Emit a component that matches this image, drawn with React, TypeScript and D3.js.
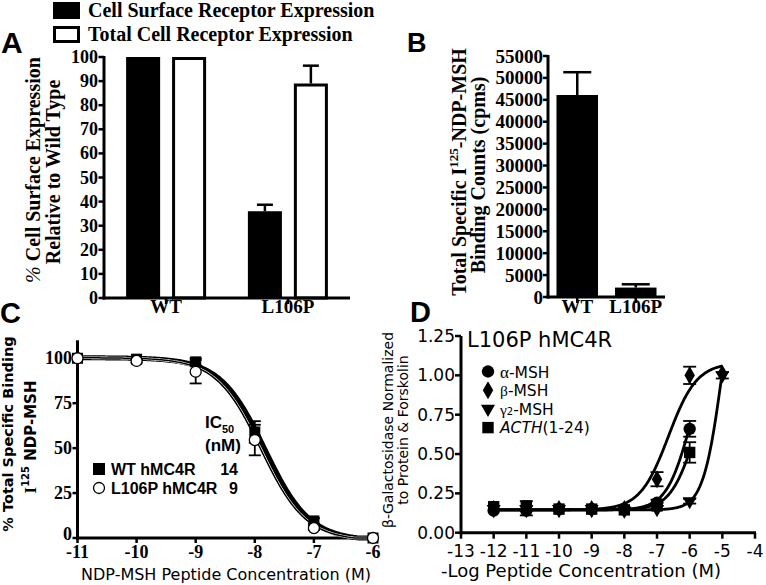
import React from "react";
import * as d3 from "d3";

// ---------------- Panel A data ----------------
const catsA = ["WT", "L106P"];
const legendA = ["Cell Surface Receptor Expression", "Total Cell Receptor Expression"];
const surfaceA = [100, 36];
const surfaceErrA = [0, 2.7];
const totalA = [100, 89];
const totalErrA = [0, 7.4];
const ticksA = [0, 10, 20, 30, 40, 50, 60, 70, 80, 90, 100];

// ---------------- Panel B data ----------------
const catsB = ["WT", "L106P"];
const countsB = [46100, 2150];
const countsErrB = [5200, 750];
const ticksB = [0, 5000, 10000, 15000, 20000, 25000, 30000, 35000, 40000, 45000, 50000, 55000];

// ---------------- Panel C data ----------------
const concC = [-11, -10, -9, -8, -7, -6];
const wtC = [100, 99.5, 98, 59, 9.5, 0];
const wtErrC = [0, 0, 2, 6, 1.5, 0];
const l106pC = [100, 98.5, 92.5, 54.5, 5.5, 0];
const l106pErrC = [0, 1, 6.5, 8.5, 1, 0];
const ticksCy = [0, 25, 50, 75, 100];
const ticksCx = [-11, -10, -9, -8, -7, -6];
const legendC = ["WT hMC4R", "L106P hMC4R"];
const ic50C = ["14", "9"];
// fitted competition curves (top, bottom, logIC50, hill)
const fitTopC = [100.3, 100.3];
const fitBottomC = [-1.5, -1.5];
const fitLogIC50C = [-7.83, -7.9];
const fitHillC = [1.15, 1.15];

// ---------------- Panel D data ----------------
const concD = [-12, -11, -10, -9, -8, -7, -6, -5];
const peptidesD = ["α", "β", "γ", "ACTH"];
const alphaD = [0.14, 0.14, 0.15, 0.15, 0.15, 0.19, 0.66, null];
const alphaErrD = [0.01, 0.03, 0.01, 0.01, 0.01, 0.02, 0.05, null];
const betaD = [0.15, 0.15, 0.15, 0.15, 0.15, 0.34, 1.0, 1.01];
const betaErrD = [0, 0, 0, 0, 0, 0.045, 0.055, 0.01];
const gammaD = [0.15, 0.15, 0.15, 0.15, 0.14, 0.15, 0.2, 1.0];
const gammaErrD = [0, 0, 0, 0, 0, 0.01, 0.015, 0.02];
const acthD = [0.165, 0.17, 0.15, 0.15, 0.145, 0.17, 0.51, null];
const acthErrD = [0.01, 0.03, 0.01, 0.01, 0.01, 0.02, 0.065, null];
const ticksDy = [0, 0.25, 0.5, 0.75, 1.0, 1.25];
const ticksDx = [-13, -12, -11, -10, -9, -8, -7, -6, -5, -4];
// fitted dose-response curves (bottom, top, logEC50, hill, last x)
const fitBottomD = [0.145, 0.145, 0.145, 0.145];
const fitTopD = [1.2, 1.08, 1.9, 1.0];
const fitLogEC50D = [-6.0, -6.65, -5.0, -5.9];
const fitHillD = [1.2, 1.0, 1.5, 1.2];
const fitEndD = [-6, -5, -5, -6];

const SERIF = "'Liberation Serif', 'Times New Roman', serif";
const SANS = "'Liberation Sans', Arial, sans-serif";
const DJV = "'DejaVu Sans', Verdana, sans-serif";

function symbolPath(kind: string, size: number) {
  const t =
    kind === "α" ? d3.symbolCircle :
    kind === "β" ? d3.symbolDiamond :
    kind === "γ" ? d3.symbolTriangle :
    d3.symbolSquare;
  return d3.symbol().type(t).size(size)() as string;
}

export default function App() {
  // ---- scales A
  const xA = d3.scaleBand<string>().domain(catsA).range([104, 350]).paddingInner(0).paddingOuter(0.01);
  const xA2 = d3.scaleBand<string>().domain(legendA).range([-40, 40]).paddingInner(0.26);
  const yA = d3.scaleLinear().domain([0, 100]).range([298, 57]);
  const cA = (c: string) => (xA(c) as number) + xA.bandwidth() / 2;

  // ---- scales B
  const xB = d3.scaleBand<string>().domain(catsB).range([548, 665]).paddingInner(0.29).paddingOuter(0.145);
  const yB = d3.scaleLinear().domain([0, 55000]).range([297, 56]);

  // ---- scales C
  const xC = d3.scaleLinear().domain([-11, -6]).range([77.5, 373]);
  const yC = d3.scaleLinear().domain([0, 110]).range([538, 340.3]);
  const curveC = (i: number) => {
    const pts = d3.range(-11, -5.999, 0.02).map((x) => {
      const v = fitBottomC[i] + (fitTopC[i] - fitBottomC[i]) / (1 + Math.pow(10, (x - fitLogIC50C[i]) * fitHillC[i]));
      return [x, Math.max(0, v)] as [number, number];
    });
    return d3.line<[number, number]>().x((d) => xC(d[0])).y((d) => yC(d[1]))(pts) as string;
  };

  // ---- scales D
  const xD = d3.scaleLinear().domain([-13, -4]).range([461, 755]);
  const yD = d3.scaleLinear().domain([0, 1.25]).range([532.7, 336]);
  const curveD = (i: number) => {
    const pts = d3.range(-12, fitEndD[i] + 0.001, 0.02).map((x) => {
      const v = fitBottomD[i] + (fitTopD[i] - fitBottomD[i]) / (1 + Math.pow(10, (fitLogEC50D[i] - x) * fitHillD[i]));
      return [x, v] as [number, number];
    });
    return d3.line<[number, number]>().x((d) => xD(d[0])).y((d) => yD(d[1]))(pts) as string;
  };
  const seriesD = [
    { key: "α", vals: alphaD, errs: alphaErrD },
    { key: "β", vals: betaD, errs: betaErrD },
    { key: "γ", vals: gammaD, errs: gammaErrD },
    { key: "ACTH", vals: acthD, errs: acthErrD },
  ];
  const symSize: Record<string, number> = { "α": 120, "β": 95, "γ": 85, "ACTH": 130 };
  const symRot: Record<string, number> = { "α": 0, "β": 0, "γ": 180, "ACTH": 0 };

  const boldSerif = { fontFamily: SERIF, fontWeight: 700 } as const;

  return (
    <svg width={766} height={585} viewBox="0 0 766 585" style={{ position: "absolute", left: 0, top: 0, background: "#fff" }}>
      <rect x={0} y={0} width={766} height={585} fill="#fff" />

      {/* ================= PANEL A ================= */}
      <text x={1} y={53} fontFamily={SANS} fontWeight={700} fontSize={30}>A</text>
      {/* legend */}
      <rect x={53} y={2} width={27} height={17} fill="#000" />
      <text x={88} y={17} {...boldSerif} fontSize={20}>{legendA[0]}</text>
      <rect x={54.5} y={27.5} width={24} height={14} fill="#fff" stroke="#000" strokeWidth={3} />
      <text x={88} y={41} {...boldSerif} fontSize={20}>{legendA[1]}</text>
      {/* y title */}
      <text transform="translate(40,170) rotate(-90)" textAnchor="middle" {...boldSerif} fontSize={20}>
        <tspan fontWeight={400} fontStyle="italic">%</tspan> Cell Surface Expression
      </text>
      <text transform="translate(60,172) rotate(-90)" textAnchor="middle" {...boldSerif} fontSize={20}>Relative to Wild Type</text>
      {/* bars */}
      {catsA.map((c, i) => {
        const cx = cA(c);
        const bx = cx + (xA2(legendA[0]) as number);
        const wx = cx + (xA2(legendA[1]) as number);
        const bw = xA2.bandwidth();
        return (
          <g key={c}>
            <rect x={bx} y={yA(surfaceA[i])} width={bw} height={yA(0) - yA(surfaceA[i])} fill="#000" />
            <rect x={wx + 1.5} y={yA(totalA[i]) + 1.5} width={bw - 3} height={yA(0) - yA(totalA[i]) - 1.5} fill="#fff" stroke="#000" strokeWidth={3} />
            {surfaceErrA[i] > 0 && (
              <g stroke="#000" strokeWidth={2.5}>
                <line x1={bx + bw / 2} x2={bx + bw / 2} y1={yA(surfaceA[i])} y2={yA(surfaceA[i] + surfaceErrA[i])} />
                <line x1={bx + bw / 2 - 8} x2={bx + bw / 2 + 8} y1={yA(surfaceA[i] + surfaceErrA[i])} y2={yA(surfaceA[i] + surfaceErrA[i])} />
              </g>
            )}
            {totalErrA[i] > 0 && (
              <g stroke="#000" strokeWidth={2.5}>
                <line x1={wx + bw / 2} x2={wx + bw / 2} y1={yA(totalA[i])} y2={yA(totalA[i] + totalErrA[i])} />
                <line x1={wx + bw / 2 - 8} x2={wx + bw / 2 + 8} y1={yA(totalA[i] + totalErrA[i])} y2={yA(totalA[i] + totalErrA[i])} />
              </g>
            )}
            <line x1={cx} x2={cx} y1={yA(0)} y2={yA(0) + 6} stroke="#000" strokeWidth={2.5} />
            <text x={cx} y={313} textAnchor="middle" {...boldSerif} fontSize={19}>{c}</text>
          </g>
        );
      })}
      {/* axes A */}
      <line x1={104} x2={104} y1={yA(100) - 1} y2={yA(0) + 1.5} stroke="#000" strokeWidth={3} />
      <line x1={102.5} x2={350} y1={yA(0)} y2={yA(0)} stroke="#000" strokeWidth={3} />
      {ticksA.map((t) => (
        <g key={t}>
          <line x1={98.5} x2={104} y1={yA(t)} y2={yA(t)} stroke="#000" strokeWidth={2.5} />
          <text x={98} y={yA(t) + 6} textAnchor="end" {...boldSerif} fontSize={18}>{t}</text>
        </g>
      ))}

      {/* ================= PANEL B ================= */}
      <text x={407} y={52} fontFamily={SANS} fontWeight={700} fontSize={27}>B</text>
      <text transform="translate(466,172) rotate(-90)" textAnchor="middle" {...boldSerif} fontSize={20}>
        Total Specific I<tspan fontSize={13} dy={-8}>125</tspan><tspan dy={8}>-NDP-MSH</tspan>
      </text>
      <text transform="translate(485,175) rotate(-90)" textAnchor="middle" {...boldSerif} fontSize={20}>Binding Counts (cpms)</text>
      {catsB.map((c, i) => {
        const x = xB(c) as number;
        const bw = xB.bandwidth();
        const cx = x + bw / 2;
        return (
          <g key={c}>
            <rect x={x} y={yB(countsB[i])} width={bw} height={yB(0) - yB(countsB[i])} fill="#000" />
            <g stroke="#000" strokeWidth={2.5}>
              <line x1={cx} x2={cx} y1={yB(countsB[i])} y2={yB(countsB[i] + countsErrB[i])} />
              <line x1={cx - 14} x2={cx + 14} y1={yB(countsB[i] + countsErrB[i])} y2={yB(countsB[i] + countsErrB[i])} />
            </g>
            <line x1={cx} x2={cx} y1={yB(0)} y2={yB(0) + 6} stroke="#000" strokeWidth={2.5} />
            <text x={cx} y={313} textAnchor="middle" {...boldSerif} fontSize={19}>{c}</text>
          </g>
        );
      })}
      <line x1={548} x2={548} y1={yB(55000) - 1} y2={yB(0) + 1.5} stroke="#000" strokeWidth={3} />
      <line x1={546.5} x2={665} y1={yB(0)} y2={yB(0)} stroke="#000" strokeWidth={3} />
      {ticksB.map((t) => (
        <g key={t}>
          <line x1={543} x2={548} y1={yB(t)} y2={yB(t)} stroke="#000" strokeWidth={2.5} />
          <text x={543} y={yB(t) + 6.5} textAnchor="end" {...boldSerif} fontSize={19}>{t}</text>
        </g>
      ))}

      {/* ================= PANEL C ================= */}
      <text x={0} y={323} fontFamily={SANS} fontWeight={700} fontSize={29}>C</text>
      <text transform="translate(13,434) rotate(-90)" textAnchor="middle" fontFamily={DJV} fontWeight={700} fontSize={14.5}>% Total Specific Binding</text>
      <text transform="translate(36,437) rotate(-90)" textAnchor="middle" fontFamily={DJV} fontWeight={700} fontSize={15}>
        <tspan fontFamily={SERIF} fontSize={17}>I</tspan><tspan fontSize={10} dy={-7}>125</tspan><tspan dy={7}> NDP-MSH</tspan>
      </text>
      {/* axes C */}
      <line x1={xC(-11)} x2={xC(-11)} y1={yC(110)} y2={yC(0) + 1.5} stroke="#000" strokeWidth={3} />
      <line x1={xC(-11) - 1.5} x2={xC(-6) + 1} y1={yC(0)} y2={yC(0)} stroke="#000" strokeWidth={3} />
      {ticksCy.map((t) => (
        <g key={t}>
          <line x1={72.5} x2={xC(-11)} y1={yC(t)} y2={yC(t)} stroke="#000" strokeWidth={2.5} />
          <text x={72} y={yC(t) + (t === 0 ? 1.5 : 6)} textAnchor="end" {...boldSerif} fontSize={18}>{t}</text>
        </g>
      ))}
      {ticksCx.map((t) => (
        <g key={t}>
          <line x1={xC(t)} x2={xC(t)} y1={yC(0)} y2={yC(0) + 5} stroke="#000" strokeWidth={2.5} />
          <text x={xC(t)} y={558} textAnchor="middle" {...boldSerif} fontSize={18}>{t}</text>
        </g>
      ))}
      <text x={226} y={580} textAnchor="middle" fontFamily={DJV} fontSize={16}>NDP-MSH Peptide Concentration (M)</text>
      {/* curves */}
      <path d={curveC(0)} fill="none" stroke="#000" strokeWidth={5} />
      <path d={curveC(1)} fill="none" stroke="#fff" strokeWidth={2.6} />
      <path d={curveC(1)} fill="none" stroke="#000" strokeWidth={1.5} />
      {/* error bars */}
      {concC.map((c, i) => (
        <g key={"e" + c} stroke="#000" strokeWidth={1.8}>
          {wtErrC[i] > 0 && (
            <>
              <line x1={xC(c)} x2={xC(c)} y1={yC(wtC[i] - wtErrC[i])} y2={yC(wtC[i] + wtErrC[i])} />
              <line x1={xC(c) - 6} x2={xC(c) + 6} y1={yC(wtC[i] + wtErrC[i])} y2={yC(wtC[i] + wtErrC[i])} />
              <line x1={xC(c) - 6} x2={xC(c) + 6} y1={yC(wtC[i] - wtErrC[i])} y2={yC(wtC[i] - wtErrC[i])} />
            </>
          )}
          {l106pErrC[i] > 0 && (
            <>
              <line x1={xC(c)} x2={xC(c)} y1={yC(l106pC[i] - l106pErrC[i])} y2={yC(l106pC[i] + l106pErrC[i])} />
              <line x1={xC(c) - 6} x2={xC(c) + 6} y1={yC(l106pC[i] + l106pErrC[i])} y2={yC(l106pC[i] + l106pErrC[i])} />
              <line x1={xC(c) - 6} x2={xC(c) + 6} y1={yC(l106pC[i] - l106pErrC[i])} y2={yC(l106pC[i] - l106pErrC[i])} />
            </>
          )}
        </g>
      ))}
      {concC.map((c, i) => (
        <rect key={"s" + c} x={xC(c) - 5.5} y={yC(wtC[i]) - 5.5} width={11} height={11} fill="#000" />
      ))}
      {concC.map((c, i) => (
        <circle key={"c" + c} cx={xC(c)} cy={yC(l106pC[i])} r={5.5} fill="#fff" stroke="#000" strokeWidth={1.3} />
      ))}
      {/* legend C */}
      <rect x={93} y={463} width={12} height={12} fill="#000" />
      <circle cx={99} cy={488} r={5.5} fill="#fff" stroke="#000" strokeWidth={1.3} />
      <text x={111} y={475} fontFamily={SANS} fontWeight={700} fontSize={16}>{legendC[0]}</text>
      <text x={111} y={494} fontFamily={SANS} fontWeight={700} fontSize={16}>{legendC[1]}</text>
      <text x={238} y={475} textAnchor="end" fontFamily={SANS} fontWeight={700} fontSize={16}>{ic50C[0]}</text>
      <text x={238} y={494} textAnchor="end" fontFamily={SANS} fontWeight={700} fontSize={16}>{ic50C[1]}</text>
      <text x={205} y={428} fontFamily={SANS} fontWeight={700} fontSize={17}>
        IC<tspan fontSize={11} dy={5}>50</tspan>
      </text>
      <text x={205} y={451} fontFamily={SANS} fontWeight={700} fontSize={17}>(nM)</text>

      {/* ================= PANEL D ================= */}
      <text x={410} y={322} fontFamily={SANS} fontWeight={700} fontSize={29}>D</text>
      <text transform="translate(393,430) rotate(-90)" textAnchor="middle" fontFamily={DJV} fontSize={14}>β-Galactosidase Normalized</text>
      <text transform="translate(408,430) rotate(-90)" textAnchor="middle" fontFamily={DJV} fontSize={14}>to Protein &amp; Forskolin</text>
      <line x1={xD(-13)} x2={xD(-13)} y1={yD(1.25)} y2={yD(0) + 1.5} stroke="#000" strokeWidth={3} />
      <line x1={xD(-13) - 1.5} x2={xD(-4) + 1} y1={yD(0)} y2={yD(0)} stroke="#000" strokeWidth={3} />
      {ticksDy.map((t) => (
        <g key={t}>
          <line x1={455} x2={xD(-13)} y1={yD(t)} y2={yD(t)} stroke="#000" strokeWidth={2.5} />
          <text x={455} y={yD(t) + 6} textAnchor="end" fontFamily={DJV} fontSize={17}>{t.toFixed(2)}</text>
        </g>
      ))}
      {ticksDx.map((t) => (
        <g key={t}>
          <line x1={xD(t)} x2={xD(t)} y1={yD(0)} y2={yD(0) + 6} stroke="#000" strokeWidth={2.5} />
          <text x={xD(t)} y={557} textAnchor="middle" fontFamily={DJV} fontSize={17}>{t}</text>
        </g>
      ))}
      <text x={581} y={577} textAnchor="middle" fontFamily={DJV} fontSize={18}>-Log Peptide Concentration (M)</text>
      <text x={467} y={347} fontFamily={DJV} fontSize={21}>L106P hMC4R</text>
      {/* curves D */}
      {peptidesD.map((p, i) => (
        <path key={"cd" + p} d={curveD(i)} fill="none" stroke="#000" strokeWidth={2.8} />
      ))}
      {/* error bars D */}
      {seriesD.map((s) => (
        <g key={"ed" + s.key} stroke="#000" strokeWidth={1.8}>
          {concD.map((c, i) => {
            const v = s.vals[i];
            const e = s.errs[i];
            if (v == null || e == null || e <= 0.012) return null;
            return (
              <g key={c}>
                <line x1={xD(c)} x2={xD(c)} y1={yD(v - e)} y2={yD(v + e)} />
                <line x1={xD(c) - 6.5} x2={xD(c) + 6.5} y1={yD(v + e)} y2={yD(v + e)} />
                <line x1={xD(c) - 6.5} x2={xD(c) + 6.5} y1={yD(v - e)} y2={yD(v - e)} />
              </g>
            );
          })}
        </g>
      ))}
      {/* markers D */}
      {seriesD.map((s) => (
        <g key={"md" + s.key}>
          {concD.map((c, i) => {
            const v = s.vals[i];
            if (v == null) return null;
            return (
              <path key={c} d={symbolPath(s.key, symSize[s.key])} transform={`translate(${xD(c)},${yD(v)}) rotate(${symRot[s.key]})`} fill="#000" />
            );
          })}
        </g>
      ))}
      {/* legend D */}
      {seriesD.map((s, i) => (
        <path key={"ld" + s.key} d={symbolPath(s.key, symSize[s.key])} transform={`translate(488,${371.5 + i * 18.7}) rotate(${symRot[s.key]})`} fill="#000" />
      ))}
      <text x={500} y={377.5} fontFamily={DJV} fontSize={15.5}><tspan fontFamily={SERIF} fontSize={17}>α</tspan>-MSH</text>
      <text x={500} y={396.2} fontFamily={DJV} fontSize={15.5}><tspan fontFamily={SERIF} fontSize={15.5}>β</tspan>-MSH</text>
      <text x={500} y={414.5} fontFamily={DJV} fontSize={15.5}><tspan fontFamily={SERIF} fontSize={15.5}>γ</tspan><tspan fontSize={10}>2</tspan>-MSH</text>
      <text x={500} y={433.4} fontFamily={DJV} fontSize={15.5}><tspan fontStyle="italic">ACTH</tspan>(1-24)</text>
    </svg>
  );
}
